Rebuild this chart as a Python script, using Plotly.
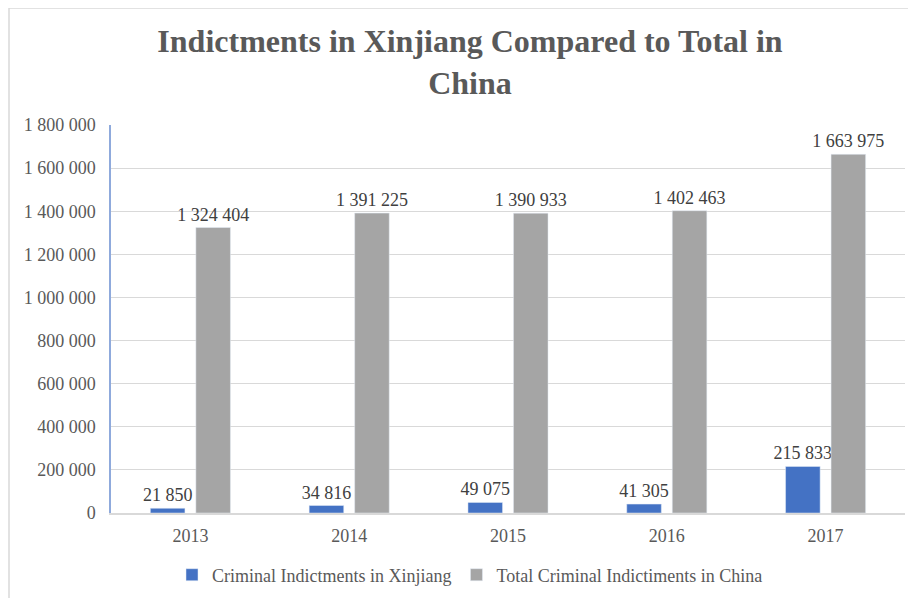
import plotly.graph_objects as go

years = ["2013", "2014", "2015", "2016", "2017"]
xinjiang = [21850, 34816, 49075, 41305, 215833]
china = [1324404, 1391225, 1390933, 1402463, 1663975]
series_names = ["Criminal Indictments in Xinjiang", "Total Criminal Indictiments in China"]
y_ticks = [0, 200000, 400000, 600000, 800000, 1000000, 1200000, 1400000, 1600000, 1800000]

FONT = "Liberation Serif"
TXT = "#595959"
BLUE = "#4472C4"
GRAY = "#A5A5A5"
LBL = dict(family=FONT, size=18, color="#404040")

fig = go.Figure()
fig.add_trace(go.Bar(x=years, y=xinjiang, name=series_names[0], marker_color=BLUE,
                     texttemplate="%{y:,d}", textposition="outside", textfont=LBL,
                     constraintext="none", cliponaxis=False))
fig.add_trace(go.Bar(x=years, y=china, name=series_names[1], marker_color=GRAY,
                     texttemplate="%{y:,d}", textposition="outside", textfont=LBL,
                     constraintext="none", cliponaxis=False))

# page has an 8px body offset; margins chosen so the plot area lands at x 111-905, y 125-513
L, R, T, B = 103, 19, 117, 93
W, H = 916, 598
pw, ph = W - L - R, H - T - B

def px_x(p):
    return (p - 8 - L) / pw

def px_y(p):
    return (H - B - (p - 8)) / ph

shapes = [
    dict(type="line", xref="paper", yref="paper", x0=px_x(9), x1=px_x(9), y0=px_y(610), y1=px_y(8),
         line=dict(color="#D9D9D9", width=1.5)),
    dict(type="line", xref="paper", yref="paper", x0=px_x(9), x1=px_x(930), y0=px_y(8), y1=px_y(8),
         line=dict(color="#D9D9D9", width=1.5)),
]

fig.update_layout(
    width=W, height=H,
    margin=dict(l=L, r=R, t=T, b=B),
    paper_bgcolor="white", plot_bgcolor="white",
    separators=". ",
    barmode="group", bargap=0.427, bargroupgap=0.24,
    font=dict(family=FONT, color=TXT, size=18),
    title=dict(text="<b>Indictments in Xinjiang Compared to Total in<br>China</b>",
               x=(470 - 8) / W, xanchor="center",
               y=1 - 44 / H, yanchor="top",
               font=dict(family=FONT, size=32, color=TXT)),
    legend=dict(orientation="h", x=px_x(470), xanchor="center",
                y=px_y(575), yanchor="middle",
                font=dict(family=FONT, size=18, color=TXT), traceorder="normal"),
    shapes=shapes,
    showlegend=True,
)
fig.update_yaxes(range=[0, 1800000], tickvals=y_ticks, tickformat=",d",
                 showgrid=True, gridcolor="#D9D9D9", gridwidth=1,
                 showline=True, linecolor="#8FAADC", linewidth=1.5,
                 zeroline=False, ticks="outside", ticklen=10, tickcolor="rgba(0,0,0,0)",
                 tickfont=dict(family=FONT, size=18, color=TXT))
fig.update_xaxes(type="category", showline=True, linecolor="#D9D9D9", linewidth=1.5,
                 ticks="outside", ticklen=6, tickcolor="rgba(0,0,0,0)",
                 tickfont=dict(family=FONT, size=18, color=TXT))

fig.write_html("out.html")
